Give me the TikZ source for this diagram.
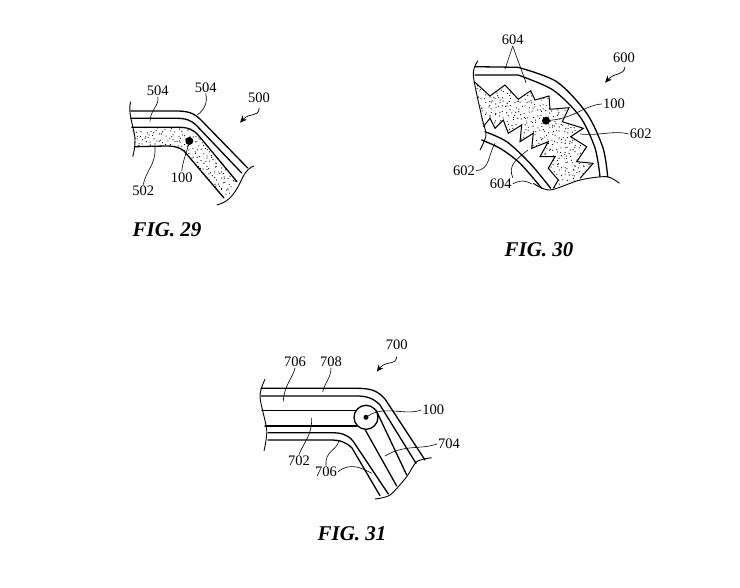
\documentclass[tikz,border=0pt]{standalone}
\usepackage{fontspec}
\setmainfont{Liberation Serif}
\usetikzlibrary{positioning,arrows.meta}

\tikzset{
    wall/.style={line width=1.3pt,line cap=round},
    breakline/.style={line width=0.9pt},
    leaderline/.style={line width=0.6pt},
    refarrow/.style={line width=0.7pt,-{Stealth[length=7pt,width=6pt]}},
    reflabel/.style={font=\fontsize{14.5}{14.5}\selectfont,inner sep=1pt},
    figlabel/.style={font=\fontsize{21}{21}\selectfont\bfseries\itshape,inner sep=0pt},
    sensordot/.style={fill=black,circle,inner sep=0pt}
}
% jittered dots on a grid: x1, y1, x2, y2
\newcommand{\stipple}[4]{
    \foreach \gridx in {#1,\the\numexpr#1+4\relax,...,#3} {
        \foreach \gridy in {#2,\the\numexpr#2+4\relax,...,#4} {
            \pgfmathsetmacro{\dotx}{\gridx+2*rand}
            \pgfmathsetmacro{\doty}{\gridy+2*rand}
            \fill (\dotx,\doty) circle (0.6);
        }
    }
}

\begin{document}
\begin{tikzpicture}[x=1pt,y=-1pt]
    \useasboundingbox (0,0) rectangle (740,588);
    \pgfmathsetseed{29}

    % Fig. 29
    \begin{scope}
        \clip (132,127.3) -- (178,127.3) .. controls (188,127.3) and (193,129) .. (199,136) -- (237,181.7)
            .. controls (234,190) and (230,196) .. (224,198) -- (184,151) .. controls (179,147) and (174,146) .. (166,146) -- (135,146.7) -- cycle;
        \stipple{130}{127}{240}{200}
    \end{scope}
    \draw[wall] (130.7,111) -- (176,111) .. controls (188,111) and (194,113) .. (201,120) -- (247.7,168);
    \draw[wall] (130.7,118.3) -- (176,118.3) .. controls (186,118.3) and (191,120) .. (197,126) -- (241.7,173);
    \draw[wall] (131.7,127.3) -- (178,127.3) .. controls (188,127.3) and (193,129) .. (199,136) -- (237,181.7);
    \draw[wall] (135,146.7) -- (166,146) .. controls (174,146) and (179,147) .. (184,151) -- (224,198);
    \draw[breakline] (130.7,101.7) .. controls (127,112) and (135,130) .. (135,140) .. controls (135,147) and (134,152) .. (132.7,156.7);
    \draw[breakline] (216.7,205) .. controls (230,202) and (236,192) .. (243,176.7) .. controls (246,171) and (250,167) .. (254,166);
    \node[sensordot,minimum size=8pt] (dot29) at (189.3,141) {};

    \node[reflabel] (n504a) at (157.7,90.7) {504};
    \node[reflabel] (n504b) at (205.7,87.3) {504};
    \node[reflabel] (n500) at (259,97.3) {500};
    \node[reflabel] (n502) at (143.3,190.7) {502};
    \node[reflabel] (n100a) at (181.7,177.3) {100};
    \node[figlabel] (fig29) at (167,230) {FIG. 29};
    \coordinate (c504a) at (150,121.7);
    \coordinate (c504b) at (197.3,115);
    \coordinate (c500) at (240,122.7);
    \coordinate (c502) at (155,147);
    \draw[leaderline] (n504a.south) .. controls (160,105) and (150,110) .. (c504a);
    \draw[leaderline] (n504b.south) .. controls (208,103) and (204,110) .. (c504b);
    \draw[leaderline] (n502.north) .. controls (146,170) and (156,165) .. (c502);
    \draw[leaderline] (n100a.north) .. controls (183,160) and (186,155) .. (dot29);
    \draw[refarrow] (259.3,108) .. controls (258,118) and (250,112) .. (c500);

    % Fig. 30
    \begin{scope}
        \clip (474.3,81.7) -- (490,96) -- (505,85) -- (518.3,99.3) -- (530.7,90.7) -- (535,100) -- (549,96)
            -- (550,109.3) -- (569,107.7) -- (562.3,121.7) -- (583.3,128.3) -- (570.7,136.7) -- (586.7,146.7)
            -- (576.7,161.7) -- (593.3,163.3) -- (580,178.3) -- (553.3,188.3) -- (558.3,180) -- (548.3,168.3)
            -- (555,156.7) -- (540,156.7) -- (548.3,141.7) -- (531.7,148.3) -- (533.3,133.3) -- (520,141.7)
            -- (521.7,125) -- (508.3,133.3) -- (503.3,120) -- (495,128.3) -- (490,118.3) -- (483.3,126.7) -- cycle;
        \stipple{472}{80}{596}{192}
    \end{scope}
    \draw[wall] (475,66.7) -- (518,67.3) plot[smooth] coordinates {(518,67.3) (556.7,81.7) (586.7,113.3) (603,148) (607.7,176.7)};
    \draw[wall] (475,75) -- (518,75) plot[smooth] coordinates {(518,75) (553,90) (580,116.7) (595,148) (600,176.7)};
    \draw[wall] plot[smooth] coordinates {(485,131.7) (506.7,141.7) (530,163.3) (550.7,188.3)};
    \draw[wall] plot[smooth] coordinates {(481.7,140) (500,148.3) (520,163.3) (541.7,188.3)};
    \draw[line width=1pt] (474.3,81.7) -- (490,96) -- (505,85) -- (518.3,99.3) -- (530.7,90.7) -- (535,100) -- (549,96)
        -- (550,109.3) -- (569,107.7) -- (562.3,121.7) -- (583.3,128.3) -- (570.7,136.7) -- (586.7,146.7)
        -- (576.7,161.7) -- (593.3,163.3) -- (580,178.3);
    \draw[line width=1pt] (483.3,126.7) -- (490,118.3) -- (495,128.3) -- (503.3,120) -- (508.3,133.3) -- (521.7,125)
        -- (520,141.7) -- (533.3,133.3) -- (531.7,148.3) -- (548.3,141.7) -- (540,156.7) -- (555,156.7)
        -- (548.3,168.3) -- (558.3,180) -- (553.3,188.3);
    \draw[breakline] plot[smooth] coordinates {(478,60.7) (473.3,75) (481.7,116.7) (486,135) (480,150)};
    \draw[breakline] plot[smooth] coordinates {(533.3,183.3) (550,190) (580,180) (606.7,176.7) (619.3,183.3)};
    \node[sensordot,minimum size=8pt] (dot30) at (546,120.7) {};

    \node[reflabel] (n604a) at (512.7,40) {604};
    \node[reflabel] (n600) at (624,57.3) {600};
    \node[reflabel] (n100b) at (614,104) {100};
    \node[reflabel] (n602a) at (640.7,134) {602};
    \node[reflabel] (n602b) at (464,170.7) {602};
    \node[reflabel] (n604b) at (500.7,184) {604};
    \node[figlabel] (fig30) at (539,250) {FIG. 30};
    \coordinate (c604a) at (505,69.3);
    \coordinate (c604b) at (526,82.7);
    \coordinate (c600) at (605,82.7);
    \coordinate (c602a) at (580,134);
    \coordinate (c602b) at (495,143.3);
    \coordinate (c604c) at (528,150);
    \coordinate (c604d) at (531.7,184);
    \draw[leaderline] (n604a.south) -- (c604a);
    \draw[leaderline] (n604a.south) -- (c604b);
    \draw[leaderline] (n100b.west) .. controls (585,105) and (575,118) .. (dot30);
    \draw[leaderline] (n602a.west) .. controls (615,130) and (600,136) .. (c602a);
    \draw[leaderline] (n602b.east) .. controls (490,170) and (488,155) .. (c602b);
    \draw[leaderline] (n604b.north east) .. controls (508,166) and (515,160) .. (c604c);
    \draw[leaderline] (n604b.east) .. controls (520,180) and (525,180) .. (c604d);
    \draw[refarrow] (625,66.7) .. controls (624,76) and (615,72) .. (c600);

    % Fig. 31
    \draw[wall] (261,388.3) -- (356,388.3) .. controls (370,388.3) and (377,390) .. (385,399) -- (425,460);
    \draw[wall] (261,396) -- (356,396) .. controls (367,396) and (373,398) .. (380,405) -- (416,463.3);
    \draw[wall] (262,410.7) -- (356,410.7);
    \draw[wall] (265,426) -- (357,426);
    \draw[wall] (268,432.7) -- (330,432.7) .. controls (341,432.7) and (347,434) .. (353,441) -- (388.3,494);
    \draw[wall] (268,440) -- (330,440) .. controls (340,440) and (346,442) .. (352,448) -- (380,495.7);
    \draw[wall] (376,410) -- (406.7,475);
    \draw[wall] (365,429.5) -- (396.7,486);
    \node[circle,draw,fill=white,line width=1.3pt,minimum size=24pt,inner sep=0pt] (ring31) at (366,417.3) {};
    \node[sensordot,minimum size=5pt] (dot31) at (366,417.3) {};
    \draw[breakline] plot[smooth] coordinates {(265,379.3) (260,396.7) (266.7,430) (264,450.7)};
    \draw[breakline] plot[smooth] coordinates {(375,499) (390,495) (406.7,476.7) (416.7,461.7) (431.7,457.7)};

    \node[reflabel] (n700) at (396.7,345) {700};
    \node[reflabel] (n706a) at (295,361.7) {706};
    \node[reflabel] (n708) at (331,361.7) {708};
    \node[reflabel] (n100c) at (433.3,410) {100};
    \node[reflabel] (n704) at (449,444) {704};
    \node[reflabel] (n702) at (299,460.7) {702};
    \node[reflabel] (n706b) at (326,471.7) {706};
    \node[figlabel] (fig31) at (352,534) {FIG. 31};
    \coordinate (c706a) at (283.3,401.7);
    \coordinate (c708) at (322.7,391.7);
    \coordinate (c704) at (385,456);
    \coordinate (c702) at (311.7,418);
    \coordinate (c706b) at (339.3,440);
    \coordinate (c706c) at (371.7,473.3);
    \coordinate (c700) at (376.7,371.7);
    \draw[leaderline] (n706a.south) .. controls (293,378) and (284,385) .. (c706a);
    \draw[leaderline] (n708.south) .. controls (331,378) and (325,382) .. (c708);
    \draw[leaderline] (n100c.west) .. controls (405,416) and (385,405) .. (dot31);
    \draw[leaderline] (n704.west) .. controls (420,450) and (405,444) .. (c704);
    \draw[leaderline] (n702.north) .. controls (305,440) and (312,435) .. (c702);
    \draw[leaderline] (n706b.north) .. controls (325,450) and (336,452) .. (c706b);
    \draw[leaderline] (n706b.east) .. controls (350,462) and (362,468) .. (c706c);
    \draw[refarrow] (396.7,356.7) .. controls (396,366) and (386,360) .. (c700);
\end{tikzpicture}
\end{document}
